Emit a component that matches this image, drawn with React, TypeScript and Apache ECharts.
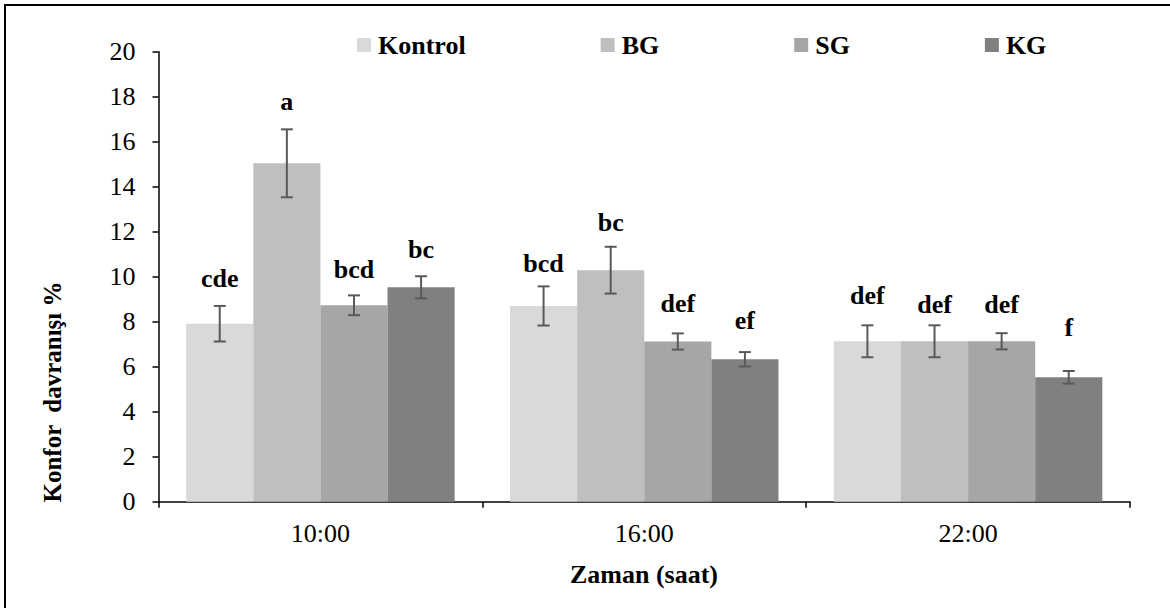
import React, { useEffect, useRef } from 'react';
import * as echarts from 'echarts';

const categories = ['10:00', '16:00', '22:00'];
const seriesNames = ['Kontrol', 'BG', 'SG', 'KG'];

const kontrol = [7.91, 8.7, 7.13];
const bg = [15.04, 10.29, 7.13];
const sg = [8.73, 7.12, 7.13];
const kg = [9.53, 6.33, 5.53];

const kontrolErr = [0.79, 0.87, 0.71];
const bgErr = [1.51, 1.04, 0.71];
const sgErr = [0.44, 0.36, 0.36];
const kgErr = [0.49, 0.32, 0.28];

const kontrolLetters = ['cde', 'bcd', 'def'];
const bgLetters = ['a', 'bc', 'def'];
const sgLetters = ['bcd', 'def', 'def'];
const kgLetters = ['bc', 'ef', 'f'];

const yMin = 0;
const yMax = 20;
const yInterval = 2;

const xTitle = 'Zaman (saat)';
const yTitle = 'Konfor  davranışı %';

// styling (not data)
const colors = ['#d9d9d9', '#bfbfbf', '#a6a6a6', '#808080'];
const letterGap = [
  [18.6, 14.3, 21],
  [19, 15, 11.7],
  [17, 21.3, 19.4],
  [17.4, 22.4, 34.6],
];
const gapFrac = 0.171;
const FONT = "'Liberation Serif', serif";

export default function App() {
  const ref = useRef<HTMLDivElement>(null);

  useEffect(() => {
    if (!ref.current) return;
    const chart = echarts.init(ref.current, null, { renderer: 'svg' });
    const values = [kontrol, bg, sg, kg];
    const errs = [kontrolErr, bgErr, sgErr, kgErr];
    const letters = [kontrolLetters, bgLetters, sgLetters, kgLetters];

    const barSeries = seriesNames.map((name, si) => ({
      name,
      type: 'bar',
      data: values[si],
      barGap: '0%',
      barCategoryGap: gapFrac * 100 + '%',
      itemStyle: { color: colors[si] },
      z: 2,
    }));

    const errSeries = seriesNames.map((name, si) => ({
      name: name + '_err',
      type: 'custom',
      z: 5,
      data: values[si].map((v, i) => [i, v, errs[si][i]]),
      encode: { x: 0, y: 1 },
      renderItem: (params: any, api: any) => {
        const ci = api.value(0);
        const v = api.value(1);
        const e = api.value(2);
        const catW = api.size([1, 0])[0];
        const bw = (catW * (1 - gapFrac)) / 4;
        const cx = api.coord([ci, 0])[0] + (si - 1.5) * bw;
        const top = api.coord([ci, v + e])[1];
        const bot = api.coord([ci, v - e])[1];
        const ls = { stroke: '#595959', lineWidth: 2 };
        const hw = 6;
        return {
          type: 'group',
          children: [
            { type: 'line', shape: { x1: cx, y1: top, x2: cx, y2: bot }, style: ls },
            { type: 'line', shape: { x1: cx - hw, y1: top, x2: cx + hw, y2: top }, style: ls },
            { type: 'line', shape: { x1: cx - hw, y1: bot, x2: cx + hw, y2: bot }, style: ls },
            {
              type: 'text',
              x: cx,
              y: top - letterGap[si][params.dataIndex] - 9,
              style: {
                text: letters[si][params.dataIndex],
                fill: '#000',
                fontFamily: FONT,
                fontSize: 26,
                fontWeight: 'bold',
                align: 'center',
                verticalAlign: 'middle',
              },
            },
          ],
        };
      },
    }));

    chart.setOption({
      animation: false,
      backgroundColor: '#fff',
      textStyle: { fontFamily: FONT },
      grid: { left: 158.5, right: 40, top: 51.7, bottom: 106.3 },
      legend: {
        data: seriesNames,
        left: 357,
        top: 32,
        padding: 0,
        itemGap: 135,
        itemWidth: 14,
        itemHeight: 14,
        icon: 'rect',
        selectedMode: false,
        textStyle: {
          fontFamily: FONT,
          fontSize: 26,
          fontWeight: 'bold',
          color: '#000',
          padding: [0, 0, 0, 2],
        },
      },
      xAxis: {
        type: 'category',
        data: categories,
        axisLine: { lineStyle: { color: '#000', width: 1.5 } },
        axisTick: { show: true, length: 6, lineStyle: { color: '#000', width: 1.5 } },
        axisLabel: { fontFamily: FONT, fontSize: 26, color: '#000', margin: 19 },
        splitLine: { show: false },
      },
      yAxis: {
        type: 'value',
        min: yMin,
        max: yMax,
        interval: yInterval,
        axisLine: { show: true, lineStyle: { color: '#000', width: 1.5 } },
        axisTick: { show: true, length: 6, lineStyle: { color: '#000', width: 1.5 } },
        axisLabel: { fontFamily: FONT, fontSize: 26, color: '#000', margin: 23 },
        splitLine: { show: false },
      },
      graphic: [
        {
          type: 'rect',
          shape: { x: 5, y: 5, width: 1400, height: 800 },
          style: { fill: 'none', stroke: '#000', lineWidth: 2 },
          silent: true,
        },
        {
          type: 'text',
          x: 644,
          y: 574,
          style: {
            text: xTitle,
            fill: '#000',
            fontFamily: FONT,
            fontSize: 26,
            fontWeight: 'bold',
            align: 'center',
            verticalAlign: 'middle',
          },
        },
        {
          type: 'text',
          x: 52,
          y: 392,
          rotation: Math.PI / 2,
          style: {
            text: yTitle,
            fill: '#000',
            fontFamily: FONT,
            fontSize: 25,
            fontWeight: 'bold',
            align: 'center',
            verticalAlign: 'middle',
          },
        },
      ],
      series: [...barSeries, ...errSeries],
    });
    return () => chart.dispose();
  }, []);

  return (
    <div
      ref={ref}
      style={{ position: 'fixed', left: 0, top: 0, width: 1170, height: 608 }}
    />
  );
}
